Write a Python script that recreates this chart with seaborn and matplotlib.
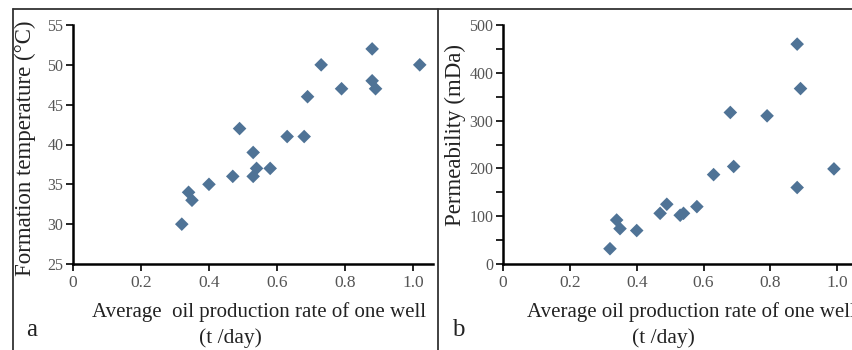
import numpy as np
import pandas as pd
import matplotlib
matplotlib.use("Agg")
import matplotlib.pyplot as plt
import seaborn as sns
from matplotlib.lines import Line2D
from matplotlib.ticker import MultipleLocator

# panel a: oil rate vs formation temperature
rate_a = [0.32, 0.34, 0.35, 0.40, 0.47, 0.49, 0.53, 0.53, 0.54, 0.58,
          0.63, 0.68, 0.69, 0.73, 0.79, 0.88, 0.88, 0.89, 1.02]
temp_a = [30, 34, 33, 35, 36, 42, 39, 36, 37, 37,
          41, 41, 46, 50, 47, 52, 48, 47, 50]

# panel b: oil rate vs permeability
rate_b = [0.32, 0.34, 0.35, 0.40, 0.47, 0.49, 0.53, 0.54, 0.58, 0.63,
          0.68, 0.69, 0.79, 0.88, 0.89, 0.88, 0.99]
perm_b = [32, 92, 74, 70, 106, 125, 102, 106, 120, 187,
          317, 204, 310, 460, 367, 160, 199]

xticks = [0, 0.2, 0.4, 0.6, 0.8, 1.0]
xtick_labels = ["0", "0.2", "0.4", "0.6", "0.8", "1.0"]

sns.set_style("white")
plt.rcParams["font.family"] = ["Liberation Serif", "DejaVu Serif"]

marker_color = "#4f7396"
tick_color = "#555555"
text_color = "#222222"

fig = plt.figure(figsize=(8.53, 3.5), dpi=100)
ax_a = fig.add_axes([73 / 853, 86 / 350, 360 / 853, 239 / 350])
ax_b = fig.add_axes([503 / 853, 86 / 350, 352 / 853, 239 / 350])

df_a = pd.DataFrame({"rate": rate_a, "temp": temp_a})
df_b = pd.DataFrame({"rate": rate_b, "perm": perm_b})

sns.scatterplot(data=df_a, x="rate", y="temp", marker="D", s=48,
                color=marker_color, edgecolor="none", ax=ax_a, clip_on=False)
sns.scatterplot(data=df_b, x="rate", y="perm", marker="D", s=48,
                color=marker_color, edgecolor="none", ax=ax_b, clip_on=False)

ax_a.set_xlim(0, 1.059)
ax_a.set_ylim(25, 55)
ax_a.set_yticks([25, 30, 35, 40, 45, 50, 55])

ax_b.set_xlim(0, 1.053)
ax_b.set_ylim(0, 500)
ax_b.yaxis.set_major_locator(MultipleLocator(100))
ax_b.yaxis.set_minor_locator(MultipleLocator(50))

for ax in (ax_a, ax_b):
    ax.set_xticks(xticks)
    ax.set_xticklabels(xtick_labels)
    ax.set_xlabel("")
    ax.set_ylabel("")
    for side in ("top", "right"):
        ax.spines[side].set_visible(False)
    for side in ("left", "bottom"):
        ax.spines[side].set_color("black")
        ax.spines[side].set_linewidth(1.8)
    ax.tick_params(axis="both", which="both", direction="out", length=5,
                   width=1.2, color="black", labelsize=12.5,
                   labelcolor=tick_color, pad=3, left=True, bottom=True)
    ax.tick_params(axis="y", labelsize=11.5, pad=2)
    ax.set_facecolor("white")

# axis titles
fig.text(25 / 853, 1 - 148 / 350, "Formation temperature (°C)", rotation=90,
         ha="center", va="center", fontsize=16.5, color=text_color)
fig.text(455 / 853, 1 - 135 / 350, "Permeability (mDa)", rotation=90,
         ha="center", va="center", fontsize=16.5, color=text_color)
fig.text(92 / 853, 1 - 312 / 350, "Average  oil production rate of one well",
         ha="left", va="center", fontsize=15, color=text_color)
fig.text(230 / 853, 1 - 338 / 350, "(t /day)",
         ha="center", va="center", fontsize=15.5, color=text_color)
fig.text(527 / 853, 1 - 312 / 350, "Average oil production rate of one well",
         ha="left", va="center", fontsize=15, color=text_color)
fig.text(663 / 853, 1 - 338 / 350, "(t /day)",
         ha="center", va="center", fontsize=15.5, color=text_color)
fig.text(32 / 853, 1 - 330 / 350, "a", ha="center", va="center",
         fontsize=18, color=text_color)
fig.text(458 / 853, 1 - 330 / 350, "b", ha="center", va="center",
         fontsize=18, color=text_color)

# frame lines around the figure panels
frame = dict(color="#333333", linewidth=1.3, transform=fig.transFigure)
fig.add_artist(Line2D([13 / 853, 1], [1 - 9 / 350, 1 - 9 / 350], **frame))
fig.add_artist(Line2D([13 / 853, 13 / 853], [0, 1 - 9 / 350], **frame))
fig.add_artist(Line2D([438 / 853, 438 / 853], [0, 1 - 9 / 350], **frame))

fig.savefig("out.png", dpi=100)
